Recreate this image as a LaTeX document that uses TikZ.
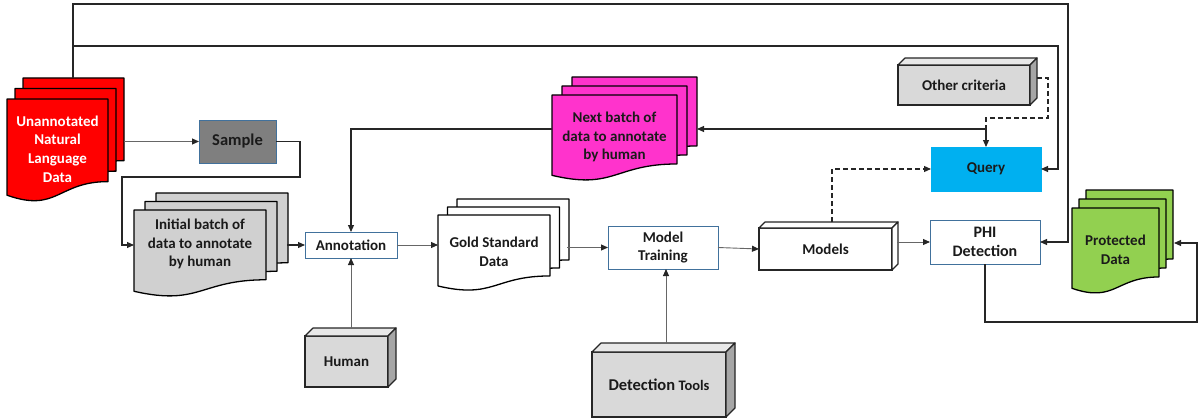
\documentclass[tikz,border=0pt]{standalone}
\usepackage{fontspec}
\setmainfont{Carlito}
\usetikzlibrary{arrows.meta}

\definecolor{docred}{HTML}{FF0000}
\definecolor{docgray}{HTML}{D0D0D0}
\definecolor{docpink}{HTML}{FF33CC}
\definecolor{docgreen}{HTML}{92D050}
\definecolor{samplegray}{HTML}{7F7F7F}
\definecolor{boxblue}{HTML}{41719C}
\definecolor{queryblue}{HTML}{00B0F0}
\definecolor{cubefront}{HTML}{D9D9D9}
\definecolor{cubeside}{HTML}{A6A6A6}
\definecolor{inkgray}{HTML}{1A1A1A}

% one page of a document symbol: fill, left x, top y, width, full height
\newcommand{\docpage}[5]{%
  \filldraw[fill=#1, draw=black, line width=1.3pt, line join=round]
    ({#2},{#3}) -- ({#2+#4},{#3}) -- ({#2+#4},{#3+0.802*#5})
    .. controls ({#2+0.5*#4},{#3+0.802*#5}) and ({#2+0.5*#4},{#3+1.1075*#5})
    .. ({#2},{#3+0.934*#5}) -- cycle;}
% stack of three pages: fill, front left x, front top y, width, height, step x, step y
\newcommand{\docstack}[7]{%
  \docpage{#1}{#2+2*#6}{#3-2*#7}{#4}{#5}
  \docpage{#1}{#2+#6}{#3-#7}{#4}{#5}
  \docpage{#1}{#2}{#3}{#4}{#5}}
% 3-D block: name, centre x, centre y, width, height, depth, front fill, side fill, text
\newcommand{\block}[9]{%
  \node[cubebox, fill=#7, minimum width=#4, minimum height=#5] (#1) at (#2,#3) {#9};
  \filldraw[cubeedge, fill=#7!60!white] (#1.north west) -- ++(#6,-#6)
    -- ([shift={(#6,-#6)}]#1.north east) -- (#1.north east) -- cycle;
  \filldraw[cubeedge, fill=#8] (#1.north east) -- ++(#6,-#6)
    -- ([shift={(#6,-#6)}]#1.south east) -- (#1.south east) -- cycle;}

\begin{document}
\begin{tikzpicture}[x=1pt, y=-1pt,
  txt/.style={font=\bfseries\fontsize{15}{18.7}\selectfont, text=inkgray, align=center},
  doctext/.style={txt, inner sep=0pt},
  flatbox/.style={txt, draw=boxblue, line width=1pt, fill=white, inner sep=0pt, outer sep=0pt},
  cubebox/.style={txt, draw=black!85, line width=1.2pt, inner sep=0pt, outer sep=0pt},
  cubeedge/.style={draw=black!85, line width=1.2pt, line join=round},
  tip/.style={-{Triangle[length=7pt,width=6pt]}},
  dark/.style={draw=black!85, line width=1.1pt},
  darkarrow/.style={dark, tip},
  grayarrow/.style={draw=black!60, line width=0.9pt,
    -{Triangle[length=7pt,width=6pt,color=black!85]}},
  dasharrow/.style={dark, dash pattern=on 5pt off 3pt, tip}]
\useasboundingbox (0,0) rectangle (1200,420);

% ---------- document stacks ----------
\docstack{docred}{7}{99}{101}{103}{8}{10.5}
\node[doctext, text=white] (raw) at (57.5,149) {Unannotated\\Natural\\Language\\Data};

\docstack{docgray}{134}{210}{132}{87}{11}{8.5}
\node[doctext] (initial) at (200,244) {Initial batch of\\data to annotate\\by human};

\docstack{white}{438}{215}{112}{76}{9.5}{8}
\node[doctext] (gold) at (494,252) {Gold Standard\\Data};

\docstack{docpink}{552}{95}{125}{86}{10}{9}
\node[doctext] (next) at (614.5,137) {Next batch of\\data to annotate\\by human};

\docstack{docgreen}{1072}{208}{87}{86}{7}{9}
\node[doctext] (protected) at (1115.5,250) {Protected\\Data};

% ---------- flat boxes ----------
\node[flatbox, fill=samplegray, minimum width=77, minimum height=43,
      font=\bfseries\fontsize{16.5}{19}\selectfont] (sample) at (237.5,141.5) {Sample};
\node[flatbox, minimum width=92, minimum height=26] (annot) at (351,245) {Annotation};
\node[flatbox, minimum width=110, minimum height=43] (train) at (663,247.5) {Model\\Training};
\node[flatbox, minimum width=110, minimum height=44,
      font=\bfseries\fontsize{16}{19.5}\selectfont] (phi) at (985,242) {PHI\\Detection};
\node[flatbox, draw=queryblue, fill=queryblue, minimum width=110, minimum height=44] (query) at (986,169) {Query};

% ---------- 3-D blocks ----------
\block{human}{346.5}{361.5}{83}{51}{8}{cubefront}{cubeside}{Human}
\block{tools}{659}{384.5}{134}{65}{9}{cubefront}{cubeside}%
  {{\fontsize{16.5}{19}\selectfont Detection} {\fontsize{14.5}{17}\selectfont Tools}}
\block{models}{825.5}{249}{133}{42}{6}{white}{white}{Models}
\block{other}{964}{85}{132}{40}{7}{cubefront}{cubeside}{Other criteria}

% ---------- connection points on stacks and blocks ----------
\coordinate (rawtop) at (73,78);
\coordinate (rawout) at (124,141.5);
\coordinate (initin) at (134,245);
\coordinate (initout) at (287,245);
\coordinate (goldin) at (438,245);
\coordinate (goldout) at (567,247.5);
\coordinate (nextin) at (697,129);
\coordinate (nextout) at (552,129);
\coordinate (protin) at (1174,243);
\coordinate (hub) at (986,129);
\coordinate (humantop) at (351,328);
\coordinate (toolstop) at (666,343);
\coordinate (modelsside) at (897,242);
\coordinate (modelstop) at (832,222);
\coordinate (otherside) at (1037,78);

% ---------- connectors ----------
\draw[darkarrow] (rawtop) |- (1068,4) |- (phi.east);
\draw[darkarrow] (73,46) -| (1058,169) -- (query.east);
\draw[grayarrow] (rawout) -- (sample.west);
\draw[darkarrow] (sample.east) -| (300,177) -| (122,245) -- (initin);
\draw[darkarrow] (initout) -- (annot.west);
\draw[darkarrow] (nextout) -| (annot.north);
\draw[grayarrow] (humantop) -- (annot.south);
\draw[grayarrow] (annot.east) -- (goldin);
\draw[grayarrow] (goldout) -- (train.west);
\draw[grayarrow] (toolstop) -- (666,269);
\draw[grayarrow] (train.east) -- (models.west);
\draw[grayarrow] (modelsside) -- (phi.west);
\draw[dasharrow] (modelstop) |- (query.west);
\draw[darkarrow] (hub) -- (nextin);
\draw[darkarrow] (hub) -- (query.north);
\draw[dark, dash pattern=on 5pt off 3pt] (otherside) -- (1048,78) |- (986,118) -- (hub);
\draw[darkarrow] (phi.south) |- (1197,322) |- (protin);
\end{tikzpicture}
\end{document}
